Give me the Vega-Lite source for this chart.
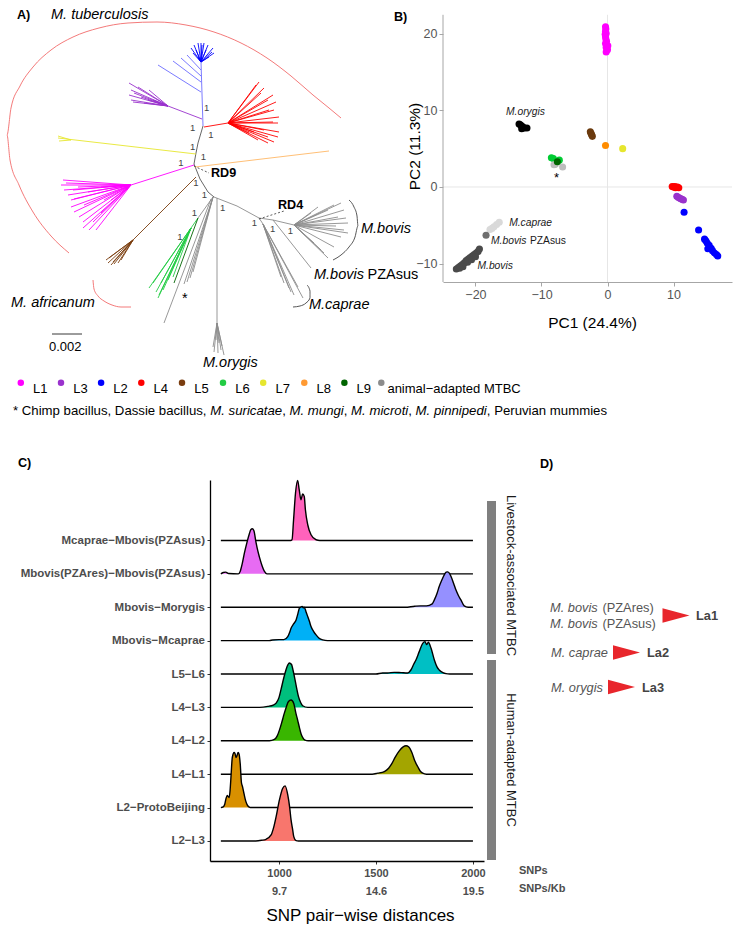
{
"$schema":"https://vega.github.io/schema/vega-lite/v6.json",
"padding":0,
"background":"white",
"config":{"view":{"stroke":null},"font":"Liberation Sans","text":{"font":"Liberation Sans"},"axis":{"labelFont":"Liberation Sans","titleFont":"Liberation Sans"}},
"datasets":{
"tree":[
{"g":"bb","x":202,"y":126,"x2":197,"y2":143},{"g":"bb","x":197,"y":143,"x2":195,"y2":153},{"g":"bb","x":195,"y":153,"x2":193,"y2":164},{"g":"bb","x":193,"y":164,"x2":199,"y2":179},{"g":"bb","x":199,"y":179,"x2":207,"y2":192},{"g":"bb","x":207,"y":192,"x2":213,"y2":197},
{"g":"an","x":213,"y":197,"x2":236,"y2":206},{"g":"an","x":236,"y":206,"x2":258,"y2":218},{"g":"an","x":258,"y":218,"x2":272,"y2":220},{"g":"an","x":272,"y":220,"x2":293,"y2":225},{"g":"an","x":272,"y":220,"x2":310,"y2":268},{"g":"an","x":258,"y":218,"x2":262,"y2":224},{"g":"an","x":216,"y":198,"x2":216,"y2":323},
{"g":"an","x":212,"y":197,"x2":183,"y2":284},{"g":"an","x":212,"y":197,"x2":186,"y2":282},{"g":"an","x":212,"y":197,"x2":189,"y2":278},{"g":"an","x":212,"y":197,"x2":192,"y2":272},{"g":"an","x":210,"y":199,"x2":163,"y2":323},{"g":"an","x":212,"y":197,"x2":197,"y2":218},
{"g":"an","x":293,"y":225,"x2":340,"y2":203},{"g":"an","x":293,"y":225,"x2":343,"y2":210},{"g":"an","x":293,"y":225,"x2":333,"y2":205},{"g":"an","x":293,"y":225,"x2":347,"y2":223},{"g":"an","x":293,"y":225,"x2":343,"y2":230},{"g":"an","x":293,"y":225,"x2":340,"y2":237},{"g":"an","x":293,"y":225,"x2":333,"y2":247},{"g":"an","x":293,"y":225,"x2":327,"y2":258},{"g":"an","x":293,"y":225,"x2":323,"y2":253},{"g":"an","x":293,"y":225,"x2":320,"y2":250},{"g":"an","x":293,"y":225,"x2":313,"y2":243},{"g":"an","x":293,"y":225,"x2":337,"y2":217},{"g":"an","x":293,"y":225,"x2":327,"y2":210},{"g":"an","x":293,"y":225,"x2":317,"y2":207},{"g":"an","x":293,"y":225,"x2":310,"y2":213},{"g":"an","x":293,"y":225,"x2":347,"y2":233},{"g":"an","x":293,"y":225,"x2":335,"y2":226},{"g":"an","x":293,"y":225,"x2":345,"y2":218},
{"g":"an","x":262,"y":224,"x2":293,"y2":295},{"g":"an","x":262,"y":224,"x2":302,"y2":298},{"g":"an","x":262,"y":224,"x2":290,"y2":292},{"g":"an","x":262,"y":224,"x2":283,"y2":283},{"g":"an","x":262,"y":224,"x2":297,"y2":287},{"g":"an","x":262,"y":224,"x2":280,"y2":277},{"g":"an","x":262,"y":224,"x2":288,"y2":288},
{"g":"an","x":216,"y":323,"x2":212,"y2":347},{"g":"an","x":216,"y":323,"x2":213,"y2":352},{"g":"an","x":216,"y":323,"x2":217,"y2":353},{"g":"an","x":216,"y":323,"x2":220,"y2":350},{"g":"an","x":216,"y":323,"x2":223,"y2":355},{"g":"an","x":216,"y":323,"x2":218,"y2":343},{"g":"an","x":216,"y":323,"x2":215,"y2":340},{"g":"an","x":216,"y":323,"x2":221,"y2":346},
{"g":"L2b","x":202,"y":126,"x2":200,"y2":62},{"g":"L2b","x":200,"y":92,"x2":157,"y2":65},{"g":"L2b","x":200,"y":82,"x2":172,"y2":61},{"g":"L2b","x":200,"y":76,"x2":180,"y2":58},{"g":"L2b","x":200,"y":70,"x2":186,"y2":55},
{"g":"L2","x":200,"y":62,"x2":190,"y2":48},{"g":"L2","x":200,"y":62,"x2":193,"y2":45},{"g":"L2","x":200,"y":62,"x2":197,"y2":43},{"g":"L2","x":200,"y":62,"x2":200,"y2":43},{"g":"L2","x":200,"y":62,"x2":203,"y2":43},{"g":"L2","x":200,"y":62,"x2":207,"y2":45},{"g":"L2","x":200,"y":62,"x2":212,"y2":48},{"g":"L2","x":200,"y":62,"x2":213,"y2":53},{"g":"L2","x":200,"y":62,"x2":192,"y2":53},{"g":"L2","x":200,"y":62,"x2":197,"y2":57},{"g":"L2","x":200,"y":62,"x2":208,"y2":57},{"g":"L2","x":200,"y":62,"x2":211,"y2":52},{"g":"L2","x":200,"y":62,"x2":195,"y2":50},{"g":"L2","x":200,"y":62,"x2":205,"y2":50},{"g":"L2","x":200,"y":62,"x2":201,"y2":45},
{"g":"L3","x":201,"y":119,"x2":167,"y2":106},{"g":"L3","x":167,"y":106,"x2":128,"y2":83},{"g":"L3","x":167,"y":106,"x2":130,"y2":90},{"g":"L3","x":167,"y":106,"x2":128,"y2":95},{"g":"L3","x":167,"y":106,"x2":130,"y2":100},{"g":"L3","x":167,"y":106,"x2":132,"y2":102},{"g":"L3","x":167,"y":106,"x2":140,"y2":97},{"g":"L3","x":167,"y":106,"x2":137,"y2":87},{"g":"L3","x":167,"y":106,"x2":148,"y2":90},{"g":"L3","x":167,"y":106,"x2":152,"y2":100},{"g":"L3","x":167,"y":106,"x2":157,"y2":103},{"g":"L3","x":167,"y":106,"x2":143,"y2":103},{"g":"L3","x":167,"y":106,"x2":133,"y2":93},{"g":"L3","x":167,"y":106,"x2":147,"y2":100},
{"g":"L4","x":203,"y":127,"x2":227,"y2":123},{"g":"L4","x":227,"y":123,"x2":258,"y2":82},{"g":"L4","x":227,"y":123,"x2":263,"y2":88},{"g":"L4","x":227,"y":123,"x2":272,"y2":95},{"g":"L4","x":227,"y":123,"x2":275,"y2":102},{"g":"L4","x":227,"y":123,"x2":273,"y2":110},{"g":"L4","x":227,"y":123,"x2":278,"y2":117},{"g":"L4","x":227,"y":123,"x2":277,"y2":123},{"g":"L4","x":227,"y":123,"x2":278,"y2":132},{"g":"L4","x":227,"y":123,"x2":277,"y2":137},{"g":"L4","x":227,"y":123,"x2":273,"y2":142},{"g":"L4","x":227,"y":123,"x2":267,"y2":143},{"g":"L4","x":227,"y":123,"x2":257,"y2":140},{"g":"L4","x":227,"y":123,"x2":248,"y2":133},{"g":"L4","x":227,"y":123,"x2":260,"y2":93},{"g":"L4","x":227,"y":123,"x2":267,"y2":100},{"g":"L4","x":227,"y":123,"x2":268,"y2":110},{"g":"L4","x":227,"y":123,"x2":272,"y2":122},{"g":"L4","x":227,"y":123,"x2":263,"y2":130},{"g":"L4","x":227,"y":123,"x2":267,"y2":137},{"g":"L4","x":227,"y":123,"x2":253,"y2":132},{"g":"L4","x":227,"y":123,"x2":255,"y2":85},
{"g":"L7","x":195,"y":154,"x2":57,"y2":138},{"g":"L7","x":70,"y":140,"x2":57,"y2":136},{"g":"L7","x":70,"y":140,"x2":58,"y2":141},
{"g":"L8t","x":194,"y":167,"x2":328,"y2":151},
{"g":"L1","x":193,"y":165,"x2":130,"y2":185},{"g":"L1","x":130,"y":185,"x2":62,"y2":180},{"g":"L1","x":130,"y":185,"x2":60,"y2":185},{"g":"L1","x":130,"y":185,"x2":63,"y2":190},{"g":"L1","x":130,"y":185,"x2":67,"y2":195},{"g":"L1","x":130,"y":185,"x2":70,"y2":200},{"g":"L1","x":130,"y":185,"x2":70,"y2":207},{"g":"L1","x":130,"y":185,"x2":73,"y2":212},{"g":"L1","x":130,"y":185,"x2":78,"y2":217},{"g":"L1","x":130,"y":185,"x2":82,"y2":222},{"g":"L1","x":130,"y":185,"x2":88,"y2":230},{"g":"L1","x":130,"y":185,"x2":82,"y2":228},{"g":"L1","x":130,"y":185,"x2":92,"y2":222},{"g":"L1","x":130,"y":185,"x2":100,"y2":213},{"g":"L1","x":130,"y":185,"x2":83,"y2":205},{"g":"L1","x":130,"y":185,"x2":73,"y2":199},{"g":"L1","x":130,"y":185,"x2":72,"y2":190},{"g":"L1","x":130,"y":185,"x2":87,"y2":192},{"g":"L1","x":130,"y":185,"x2":100,"y2":187},{"g":"L1","x":130,"y":185,"x2":103,"y2":200},{"g":"L1","x":130,"y":185,"x2":110,"y2":200},{"g":"L1","x":130,"y":185,"x2":65,"y2":183},{"g":"L1","x":130,"y":185,"x2":77,"y2":187},{"g":"L1","x":130,"y":185,"x2":95,"y2":230},
{"g":"L5","x":195,"y":177,"x2":132,"y2":240},{"g":"L5","x":132,"y":240,"x2":105,"y2":260},{"g":"L5","x":132,"y":240,"x2":107,"y2":263},{"g":"L5","x":132,"y":240,"x2":110,"y2":265},{"g":"L5","x":132,"y":240,"x2":113,"y2":264},{"g":"L5","x":132,"y":240,"x2":117,"y2":263},{"g":"L5","x":132,"y":240,"x2":108,"y2":258},{"g":"L5","x":132,"y":240,"x2":120,"y2":260},{"g":"L5","x":132,"y":240,"x2":112,"y2":262},
{"g":"L6","x":197,"y":218,"x2":190,"y2":228},{"g":"L6","x":190,"y":228,"x2":148,"y2":288},{"g":"L6","x":190,"y":228,"x2":152,"y2":283},{"g":"L6","x":190,"y":228,"x2":157,"y2":298},{"g":"L6","x":190,"y":228,"x2":162,"y2":290},{"g":"L6","x":190,"y":228,"x2":167,"y2":280},{"g":"L6","x":190,"y":228,"x2":172,"y2":277},{"g":"L6","x":190,"y":228,"x2":160,"y2":283},{"g":"L6","x":190,"y":228,"x2":155,"y2":292},{"g":"L6","x":190,"y":228,"x2":158,"y2":295},
{"g":"L9","x":197,"y":218,"x2":173,"y2":283},
{"g":"sc","x":51,"y":334,"x2":81,"y2":334}
],
"dashed":[{"x":193,"y":166,"x2":208,"y2":173},{"x":258,"y":219,"x2":283,"y2":211}],
"arcs":[
{"k":"tb","o":0,"x":68,"y":253},{"k":"tb","o":1,"x":50,"y":236},{"k":"tb","o":2,"x":32,"y":212},{"k":"tb","o":3,"x":18,"y":185},{"k":"tb","o":4,"x":9,"y":160},{"k":"tb","o":5,"x":6,"y":135},{"k":"tb","o":6,"x":10,"y":108},{"k":"tb","o":7,"x":19,"y":86},{"k":"tb","o":8,"x":32,"y":67},{"k":"tb","o":9,"x":50,"y":50},{"k":"tb","o":10,"x":72,"y":37},{"k":"tb","o":11,"x":98,"y":28},{"k":"tb","o":12,"x":127,"y":23},{"k":"tb","o":13,"x":156,"y":22},{"k":"tb","o":14,"x":185,"y":25},{"k":"tb","o":15,"x":213,"y":32},{"k":"tb","o":16,"x":240,"y":43},{"k":"tb","o":17,"x":266,"y":58},{"k":"tb","o":18,"x":290,"y":76},{"k":"tb","o":19,"x":312,"y":95},{"k":"tb","o":20,"x":328,"y":108},{"k":"tb","o":21,"x":340,"y":118},
{"k":"af","o":0,"x":92,"y":280},{"k":"af","o":1,"x":93,"y":289},{"k":"af","o":2,"x":97,"y":296},{"k":"af","o":3,"x":103,"y":301},{"k":"af","o":4,"x":111,"y":305},{"k":"af","o":5,"x":120,"y":307},{"k":"af","o":6,"x":130,"y":307},
{"k":"bov","o":0,"x":348,"y":200},{"k":"bov","o":1,"x":353,"y":207},{"k":"bov","o":2,"x":356,"y":216},{"k":"bov","o":3,"x":357,"y":226},{"k":"bov","o":4,"x":354,"y":237},{"k":"bov","o":5,"x":348,"y":247},{"k":"bov","o":6,"x":340,"y":255},{"k":"bov","o":7,"x":332,"y":260},
{"k":"cap","o":0,"x":306,"y":285},{"k":"cap","o":1,"x":309,"y":291},{"k":"cap","o":2,"x":309,"y":298},{"k":"cap","o":3,"x":305,"y":303},{"k":"cap","o":4,"x":299,"y":306},{"k":"cap","o":5,"x":292,"y":307}
],
"boots":[{"x":205.7,"y":108.3},{"x":191.7,"y":128.3},{"x":210,"y":135},{"x":191.7,"y":146.7},{"x":202.3,"y":156.7},{"x":180,"y":163.3},{"x":195,"y":183.3},{"x":203.3,"y":194.8},{"x":193.3,"y":213},{"x":179,"y":237},{"x":221.7,"y":208.3},{"x":253.3,"y":222.5},{"x":271.7,"y":229.3},{"x":289.3,"y":230.5}],
"atext":[
{"s":"i","x":50,"y":15,"t":"M. tuberculosis"},{"s":"i","x":10,"y":303,"t":"M. africanum"},{"s":"i","x":360,"y":229,"t":"M.bovis"},{"s":"i","x":313,"y":275,"t":"M.bovis"},{"s":"i","x":308,"y":305,"t":"M.caprae"},{"s":"i","x":202,"y":363,"t":"M.orygis"},
{"s":"n","x":366.5,"y":275,"t":"PZAsus"},{"s":"n","x":181,"y":299,"t":"*"},
{"s":"b","x":16,"y":15,"t":"A)"},{"s":"b","x":393,"y":17.3,"t":"B)"},{"s":"b","x":210,"y":173,"t":"RD9"},{"s":"b","x":277,"y":204.5,"t":"RD4"},{"s":"b","x":17,"y":463,"t":"C)"},{"s":"b","x":539,"y":464,"t":"D)"}
],
"scaletext":[{"x":48,"y":347,"t":"0.002"}],
"leg":[{"g":"L1","x":19.8,"y":382.7,"lx":32,"t":"L1"},{"g":"L3","x":60,"y":382.7,"lx":72.2,"t":"L3"},{"g":"L2","x":100.1,"y":382.7,"lx":112.3,"t":"L2"},{"g":"L4","x":140.3,"y":382.7,"lx":152.5,"t":"L4"},{"g":"L5","x":181,"y":382.7,"lx":193.2,"t":"L5"},{"g":"L6","x":222,"y":382.7,"lx":234.2,"t":"L6"},{"g":"L7","x":262.2,"y":382.7,"lx":274.4,"t":"L7"},{"g":"L8","x":303.3,"y":382.7,"lx":315.5,"t":"L8"},{"g":"L9","x":343.4,"y":382.7,"lx":355.6,"t":"L9"},{"g":"an","x":380.3,"y":382.7,"lx":386.4,"t":"animal−adapted MTBC"}],
"foot":[{"s":"n","x":12,"t":"* Chimp bacillus, Dassie bacillus,"},{"s":"i","x":209.3,"t":"M. suricatae"},{"s":"n","x":281.2,"t":","},{"s":"i","x":288.5,"t":"M. mungi"},{"s":"n","x":342.8,"t":","},{"s":"i","x":350.1,"t":"M. microti"},{"s":"n","x":407.3,"t":","},{"s":"i","x":414.6,"t":"M. pinnipedi"},{"s":"n","x":485.8,"t":", Peruvian mummies"}],
"pca":[
{"g":"L1","pc1":-0.3,"pc2":20.9},{"g":"L1","pc1":-0.25,"pc2":20.6},{"g":"L1","pc1":-0.3,"pc2":20.3},{"g":"L1","pc1":-0.2,"pc2":20.0},{"g":"L1","pc1":-0.3,"pc2":19.6},{"g":"L1","pc1":-0.25,"pc2":19.3},{"g":"L1","pc1":-0.15,"pc2":19.0},{"g":"L1","pc1":-0.3,"pc2":18.7},{"g":"L1","pc1":-0.1,"pc2":18.5},{"g":"L1","pc1":-0.2,"pc2":18.2},{"g":"L1","pc1":0.0,"pc2":17.9},{"g":"L1","pc1":-0.2,"pc2":17.6},{"g":"L1","pc1":0.05,"pc2":18.4},{"g":"L1","pc1":-0.35,"pc2":19.9},
{"g":"L4","pc1":9.8,"pc2":0.05},{"g":"L4","pc1":10.0,"pc2":0.0},{"g":"L4","pc1":10.2,"pc2":0.05},{"g":"L4","pc1":10.4,"pc2":-0.05},{"g":"L4","pc1":10.6,"pc2":0.0},{"g":"L4","pc1":10.8,"pc2":-0.1},{"g":"L4","pc1":10.3,"pc2":-0.1},
{"g":"L3","pc1":10.5,"pc2":-1.2},{"g":"L3","pc1":10.7,"pc2":-1.35},{"g":"L3","pc1":10.9,"pc2":-1.45},{"g":"L3","pc1":11.1,"pc2":-1.55},{"g":"L3","pc1":11.3,"pc2":-1.6},{"g":"L3","pc1":11.5,"pc2":-1.7},
{"g":"L2","pc1":11.6,"pc2":-3.3},{"g":"L2","pc1":13.8,"pc2":-5.6},{"g":"L2","pc1":14.7,"pc2":-6.8},{"g":"L2","pc1":14.9,"pc2":-7.0},{"g":"L2","pc1":15.1,"pc2":-7.3},{"g":"L2","pc1":15.4,"pc2":-7.6},{"g":"L2","pc1":15.7,"pc2":-8.0},{"g":"L2","pc1":15.2,"pc2":-8.05},{"g":"L2","pc1":15.9,"pc2":-8.3},{"g":"L2","pc1":16.2,"pc2":-8.6},{"g":"L2","pc1":16.5,"pc2":-8.8},{"g":"L2","pc1":16.7,"pc2":-9.0},
{"g":"L5","pc1":-2.6,"pc2":7.2},{"g":"L5","pc1":-2.5,"pc2":7.0},{"g":"L5","pc1":-2.4,"pc2":6.8},{"g":"L5","pc1":-2.3,"pc2":6.6},
{"g":"L8","pc1":-0.3,"pc2":5.4},{"g":"L7","pc1":2.3,"pc2":5.0},
{"g":"L6","pc1":-8.5,"pc2":3.8},{"g":"L6","pc1":-8.2,"pc2":3.7},{"g":"L6","pc1":-7.3,"pc2":3.5},
{"g":"star","pc1":-8.1,"pc2":2.9},{"g":"star","pc1":-7.9,"pc2":2.95},{"g":"star","pc1":-6.8,"pc2":2.6},
{"g":"L9","pc1":-7.6,"pc2":3.3},
{"g":"orygis","pc1":-13.4,"pc2":8.2},{"g":"orygis","pc1":-13.2,"pc2":8.1},{"g":"orygis","pc1":-13.0,"pc2":7.95},{"g":"orygis","pc1":-12.8,"pc2":7.8},{"g":"orygis","pc1":-12.6,"pc2":7.7},{"g":"orygis","pc1":-13.0,"pc2":7.6},{"g":"orygis","pc1":-12.2,"pc2":7.7},
{"g":"caprae","pc1":-16.4,"pc2":-4.6},{"g":"caprae","pc1":-16.8,"pc2":-4.9},{"g":"caprae","pc1":-17.2,"pc2":-5.2},{"g":"caprae","pc1":-17.5,"pc2":-5.4},{"g":"caprae","pc1":-17.8,"pc2":-5.55},
{"g":"pzasus","pc1":-18.4,"pc2":-6.3},
{"g":"bovis","pc1":-22.9,"pc2":-10.7},{"g":"bovis","pc1":-22.6,"pc2":-10.5},{"g":"bovis","pc1":-22.3,"pc2":-10.3},{"g":"bovis","pc1":-22.0,"pc2":-10.1},{"g":"bovis","pc1":-21.7,"pc2":-9.9},{"g":"bovis","pc1":-21.4,"pc2":-9.6},{"g":"bovis","pc1":-21.1,"pc2":-9.4},{"g":"bovis","pc1":-20.8,"pc2":-9.2},{"g":"bovis","pc1":-20.5,"pc2":-9.0},{"g":"bovis","pc1":-20.2,"pc2":-8.8},{"g":"bovis","pc1":-19.9,"pc2":-8.6},{"g":"bovis","pc1":-19.6,"pc2":-8.4},{"g":"bovis","pc1":-19.4,"pc2":-8.1},{"g":"bovis","pc1":-21.9,"pc2":-10.4},{"g":"bovis","pc1":-21.2,"pc2":-9.8},{"g":"bovis","pc1":-20.6,"pc2":-9.5},{"g":"bovis","pc1":-20.0,"pc2":-9.1},{"g":"bovis","pc1":-22.4,"pc2":-10.6}
],
"pcatext":[{"s":"i","pc1":-15.38,"pc2":9.82,"t":"M.orygis"},{"s":"i","pc1":-14.9,"pc2":-4.65,"t":"M.caprae"},{"s":"i","pc1":-17.65,"pc2":-7.0,"t":"M.bovis"},{"s":"n","pc1":-11.75,"pc2":-7.0,"t":"PZAsus"},{"s":"i","pc1":-19.7,"pc2":-10.26,"t":"M.bovis"},{"s":"a","pc1":-8.1,"pc2":1.17,"t":"*"}],
"ridges":[
{"p":"r9","s":700,"b":9,"t":9},{"p":"r9","s":1060,"b":9,"t":9},{"p":"r9","s":1067,"b":9,"t":9.02},{"p":"r9","s":1075,"b":9,"t":9.62},{"p":"r9","s":1085,"b":9,"t":10.42},{"p":"r9","s":1096,"b":9,"t":10.8},{"p":"r9","s":1104,"b":9,"t":10.52},{"p":"r9","s":1113,"b":9,"t":10.22},{"p":"r9","s":1122,"b":9,"t":10.39},{"p":"r9","s":1130,"b":9,"t":10.32},{"p":"r9","s":1136,"b":9,"t":9.92},{"p":"r9","s":1148,"b":9,"t":9.47},{"p":"r9","s":1165,"b":9,"t":9.17},{"p":"r9","s":1191,"b":9,"t":9.02},{"p":"r9","s":1210,"b":9,"t":9},{"p":"r9","s":2000,"b":9,"t":9},
{"p":"r8","s":700,"b":8,"t":8},{"p":"r8","s":712,"b":8,"t":8.04},{"p":"r8","s":725,"b":8,"t":8.05},{"p":"r8","s":740,"b":8,"t":8.01},{"p":"r8","s":790,"b":8,"t":8.0},{"p":"r8","s":800,"b":8,"t":8.08},{"p":"r8","s":810,"b":8,"t":8.3},{"p":"r8","s":821,"b":8,"t":8.61},{"p":"r8","s":835,"b":8,"t":8.95},{"p":"r8","s":847,"b":8,"t":9.2},{"p":"r8","s":855,"b":8,"t":9.33},{"p":"r8","s":862,"b":8,"t":9.35},{"p":"r8","s":870,"b":8,"t":9.3},{"p":"r8","s":881,"b":8,"t":8.95},{"p":"r8","s":890,"b":8,"t":8.7},{"p":"r8","s":899,"b":8,"t":8.5},{"p":"r8","s":912,"b":8,"t":8.25},{"p":"r8","s":924,"b":8,"t":8.08},{"p":"r8","s":938,"b":8,"t":8.0},{"p":"r8","s":2000,"b":8,"t":8},
{"p":"r7","s":700,"b":7,"t":7},{"p":"r7","s":1650,"b":7,"t":7},{"p":"r7","s":1700,"b":7,"t":7.03},{"p":"r7","s":1730,"b":7,"t":7.04},{"p":"r7","s":1760,"b":7,"t":7.04},{"p":"r7","s":1790,"b":7,"t":7.1},{"p":"r7","s":1801,"b":7,"t":7.22},{"p":"r7","s":1815,"b":7,"t":7.42},{"p":"r7","s":1826,"b":7,"t":7.62},{"p":"r7","s":1840,"b":7,"t":7.82},{"p":"r7","s":1852,"b":7,"t":7.97},{"p":"r7","s":1862,"b":7,"t":8.05},{"p":"r7","s":1870,"b":7,"t":8.06},{"p":"r7","s":1878,"b":7,"t":8.02},{"p":"r7","s":1887,"b":7,"t":7.92},{"p":"r7","s":1900,"b":7,"t":7.72},{"p":"r7","s":1912,"b":7,"t":7.52},{"p":"r7","s":1925,"b":7,"t":7.35},{"p":"r7","s":1938,"b":7,"t":7.22},{"p":"r7","s":1955,"b":7,"t":7.04},{"p":"r7","s":1975,"b":7,"t":7.0},{"p":"r7","s":2000,"b":7,"t":7},
{"p":"r6","s":700,"b":6,"t":6},{"p":"r6","s":950,"b":6,"t":6},{"p":"r6","s":967,"b":6,"t":6.02},{"p":"r6","s":1000,"b":6,"t":6.03},{"p":"r6","s":1025,"b":6,"t":6.03},{"p":"r6","s":1045,"b":6,"t":6.12},{"p":"r6","s":1055,"b":6,"t":6.25},{"p":"r6","s":1062,"b":6,"t":6.37},{"p":"r6","s":1075,"b":6,"t":6.5},{"p":"r6","s":1088,"b":6,"t":6.62},{"p":"r6","s":1097,"b":6,"t":6.8},{"p":"r6","s":1105,"b":6,"t":6.97},{"p":"r6","s":1112,"b":6,"t":7.0},{"p":"r6","s":1119,"b":6,"t":7.02},{"p":"r6","s":1125,"b":6,"t":6.98},{"p":"r6","s":1130,"b":6,"t":7.0},{"p":"r6","s":1140,"b":6,"t":6.85},{"p":"r6","s":1148,"b":6,"t":6.72},{"p":"r6","s":1157,"b":6,"t":6.57},{"p":"r6","s":1165,"b":6,"t":6.42},{"p":"r6","s":1178,"b":6,"t":6.28},{"p":"r6","s":1191,"b":6,"t":6.17},{"p":"r6","s":1205,"b":6,"t":6.08},{"p":"r6","s":1225,"b":6,"t":6.02},{"p":"r6","s":1250,"b":6,"t":6},{"p":"r6","s":2000,"b":6,"t":6},
{"p":"r5","s":700,"b":5,"t":5},{"p":"r5","s":1500,"b":5,"t":5},{"p":"r5","s":1534,"b":5,"t":5.03},{"p":"r5","s":1560,"b":5,"t":5.03},{"p":"r5","s":1594,"b":5,"t":5.05},{"p":"r5","s":1630,"b":5,"t":5.04},{"p":"r5","s":1663,"b":5,"t":5.03},{"p":"r5","s":1680,"b":5,"t":5.12},{"p":"r5","s":1695,"b":5,"t":5.3},{"p":"r5","s":1706,"b":5,"t":5.42},{"p":"r5","s":1723,"b":5,"t":5.67},{"p":"r5","s":1741,"b":5,"t":5.92},{"p":"r5","s":1753,"b":5,"t":5.97},{"p":"r5","s":1761,"b":5,"t":5.88},{"p":"r5","s":1770,"b":5,"t":5.95},{"p":"r5","s":1784,"b":5,"t":5.77},{"p":"r5","s":1801,"b":5,"t":5.42},{"p":"r5","s":1814,"b":5,"t":5.22},{"p":"r5","s":1826,"b":5,"t":5.12},{"p":"r5","s":1845,"b":5,"t":5.04},{"p":"r5","s":1861,"b":5,"t":5.01},{"p":"r5","s":1880,"b":5,"t":5},{"p":"r5","s":2000,"b":5,"t":5},
{"p":"r4","s":700,"b":4,"t":4},{"p":"r4","s":900,"b":4,"t":4},{"p":"r4","s":942,"b":4,"t":4.03},{"p":"r4","s":970,"b":4,"t":4.07},{"p":"r4","s":985,"b":4,"t":4.13},{"p":"r4","s":1000,"b":4,"t":4.3},{"p":"r4","s":1010,"b":4,"t":4.53},{"p":"r4","s":1023,"b":4,"t":4.85},{"p":"r4","s":1036,"b":4,"t":5.13},{"p":"r4","s":1046,"b":4,"t":5.28},{"p":"r4","s":1053,"b":4,"t":5.33},{"p":"r4","s":1060,"b":4,"t":5.31},{"p":"r4","s":1065,"b":4,"t":5.28},{"p":"r4","s":1072,"b":4,"t":5.12},{"p":"r4","s":1079,"b":4,"t":4.93},{"p":"r4","s":1090,"b":4,"t":4.6},{"p":"r4","s":1100,"b":4,"t":4.33},{"p":"r4","s":1112,"b":4,"t":4.14},{"p":"r4","s":1122,"b":4,"t":4.05},{"p":"r4","s":1148,"b":4,"t":4},{"p":"r4","s":2000,"b":4,"t":4},
{"p":"r3","s":700,"b":3,"t":3},{"p":"r3","s":950,"b":3,"t":3},{"p":"r3","s":976,"b":3,"t":3.04},{"p":"r3","s":990,"b":3,"t":3.14},{"p":"r3","s":1002,"b":3,"t":3.32},{"p":"r3","s":1015,"b":3,"t":3.57},{"p":"r3","s":1027,"b":3,"t":3.82},{"p":"r3","s":1038,"b":3,"t":4.02},{"p":"r3","s":1048,"b":3,"t":4.17},{"p":"r3","s":1062,"b":3,"t":4.22},{"p":"r3","s":1076,"b":3,"t":4.12},{"p":"r3","s":1086,"b":3,"t":3.85},{"p":"r3","s":1096,"b":3,"t":3.62},{"p":"r3","s":1105,"b":3,"t":3.4},{"p":"r3","s":1113,"b":3,"t":3.22},{"p":"r3","s":1124,"b":3,"t":3.08},{"p":"r3","s":1134,"b":3,"t":3.02},{"p":"r3","s":1150,"b":3,"t":3},{"p":"r3","s":2000,"b":3,"t":3},
{"p":"r2","s":700,"b":2,"t":2},{"p":"r2","s":1480,"b":2,"t":2},{"p":"r2","s":1509,"b":2,"t":2.03},{"p":"r2","s":1543,"b":2,"t":2.08},{"p":"r2","s":1565,"b":2,"t":2.18},{"p":"r2","s":1580,"b":2,"t":2.3},{"p":"r2","s":1600,"b":2,"t":2.52},{"p":"r2","s":1620,"b":2,"t":2.7},{"p":"r2","s":1640,"b":2,"t":2.82},{"p":"r2","s":1655,"b":2,"t":2.85},{"p":"r2","s":1668,"b":2,"t":2.82},{"p":"r2","s":1685,"b":2,"t":2.65},{"p":"r2","s":1700,"b":2,"t":2.4},{"p":"r2","s":1715,"b":2,"t":2.23},{"p":"r2","s":1730,"b":2,"t":2.08},{"p":"r2","s":1741,"b":2,"t":2.03},{"p":"r2","s":1760,"b":2,"t":2},{"p":"r2","s":2000,"b":2,"t":2},
{"p":"r1","s":700,"b":1,"t":1},{"p":"r1","s":712,"b":1,"t":1.02},{"p":"r1","s":720,"b":1,"t":1.1},{"p":"r1","s":727,"b":1,"t":1.28},{"p":"r1","s":733,"b":1,"t":1.36},{"p":"r1","s":738,"b":1,"t":1.33},{"p":"r1","s":743,"b":1,"t":1.3},{"p":"r1","s":748,"b":1,"t":1.55},{"p":"r1","s":753,"b":1,"t":2.0},{"p":"r1","s":758,"b":1,"t":2.45},{"p":"r1","s":763,"b":1,"t":2.6},{"p":"r1","s":768,"b":1,"t":2.65},{"p":"r1","s":773,"b":1,"t":2.62},{"p":"r1","s":778,"b":1,"t":2.5},{"p":"r1","s":783,"b":1,"t":2.55},{"p":"r1","s":789,"b":1,"t":2.65},{"p":"r1","s":794,"b":1,"t":2.6},{"p":"r1","s":800,"b":1,"t":2.3},{"p":"r1","s":806,"b":1,"t":1.75},{"p":"r1","s":812,"b":1,"t":1.62},{"p":"r1","s":820,"b":1,"t":1.4},{"p":"r1","s":828,"b":1,"t":1.2},{"p":"r1","s":836,"b":1,"t":1.08},{"p":"r1","s":845,"b":1,"t":1.02},{"p":"r1","s":852,"b":1,"t":1.0},{"p":"r1","s":2000,"b":1,"t":1},
{"p":"r0","s":700,"b":0,"t":0},{"p":"r0","s":880,"b":0,"t":0},{"p":"r0","s":910,"b":0,"t":0.02},{"p":"r0","s":933,"b":0,"t":0.05},{"p":"r0","s":959,"b":0,"t":0.18},{"p":"r0","s":972,"b":0,"t":0.4},{"p":"r0","s":985,"b":0,"t":0.73},{"p":"r0","s":1002,"b":0,"t":1.23},{"p":"r0","s":1019,"b":0,"t":1.58},{"p":"r0","s":1031,"b":0,"t":1.65},{"p":"r0","s":1045,"b":0,"t":1.38},{"p":"r0","s":1055,"b":0,"t":1.0},{"p":"r0","s":1062,"b":0,"t":0.63},{"p":"r0","s":1070,"b":0,"t":0.35},{"p":"r0","s":1076,"b":0,"t":0.13},{"p":"r0","s":1088,"b":0,"t":0.01},{"p":"r0","s":1100,"b":0,"t":0},{"p":"r0","s":2000,"b":0,"t":0}
],
"strips":[{"x":486,"x2":495,"y":498,"y2":651},{"x":486,"x2":495,"y":657,"y2":857}],
"striptext":[{"x":510,"y":572.5,"t":"Livestock-associated MTBC"},{"x":510,"y":757,"t":"Human-adapted MTBC"}],
"dtext":[
{"s":"i","x":549,"y":605,"t":"M. bovis"},{"s":"i","x":549,"y":620.5,"t":"M. bovis"},{"s":"i","x":550,"y":650,"t":"M. caprae"},{"s":"i","x":550,"y":684.5,"t":"M. orygis"},
{"s":"n","x":601.5,"y":605,"t":"(PZAres)"},{"s":"n","x":601.5,"y":620.5,"t":"(PZAsus)"},
{"s":"b","x":695,"y":612.5,"t":"La1"},{"s":"b","x":646,"y":649.5,"t":"La2"},{"s":"b","x":641,"y":684.5,"t":"La3"},
{"s":"u","x":518,"y":868,"t":"SNPs"},{"s":"u","x":518,"y":886,"t":"SNPs/Kb"}
],
"tri":[{"x":675,"y":612.5},{"x":625.5,"y":649.5},{"x":620.5,"y":684}]
},
"bounds":"full",
"spacing":0,
"resolve":{"scale":{"color":"independent"}},
"vconcat":[
{"bounds":"flush","spacing":62,"resolve":{"scale":{"color":"independent"}},"hconcat":[
 {"width":380,"height":477,
  "encoding":{"x":{"field":"x","type":"quantitative","scale":{"domain":[0,380],"nice":false,"zero":false},"axis":null},"y":{"field":"y","type":"quantitative","scale":{"domain":[0,477],"nice":false,"zero":false,"reverse":true},"axis":null}},
  "layer":[
   {"data":{"name":"tree"},"mark":{"type":"rule","strokeWidth":0.9},"encoding":{"x2":{"field":"x2"},"y2":{"field":"y2"},"color":{"field":"g","type":"nominal","legend":null,"scale":{"domain":["L1","L2","L3","L4","L5","L6","L7","L8","L9","an","bb","L2b","tb","af","bov","cap","sc","L8t"],"range":["#ff00ff","#0000ff","#9a32cd","#ff0000","#7a3d0f","#22cc44","#e6e62e","#ff9a33","#006400","#8c8c8c","#555555","#6b6bff","#f26b6b","#f26b6b","#444444","#444444","#222222","#ffb866"]}}}},
   {"data":{"name":"dashed"},"mark":{"type":"rule","strokeWidth":0.8,"strokeDash":[2,2],"color":"#333333"},"encoding":{"x2":{"field":"x2"},"y2":{"field":"y2"}}},
   {"data":{"name":"arcs"},"mark":{"type":"line","strokeWidth":0.9,"interpolate":"monotone"},"encoding":{"color":{"field":"k","type":"nominal","legend":null},"order":{"field":"o","type":"quantitative"}}},
   {"data":{"name":"boots"},"mark":{"type":"text","fontSize":9.5,"color":"#444444","baseline":"middle","align":"center","text":"1"}},
   {"data":{"name":"atext"},"transform":[{"filter":"datum.s=='i'"}],"mark":{"type":"text","fontSize":14.5,"fontStyle":"italic","align":"left","baseline":"middle","color":"#000000"},"encoding":{"text":{"field":"t"}}},
   {"data":{"name":"atext"},"transform":[{"filter":"datum.s=='n'"}],"mark":{"type":"text","fontSize":14.5,"align":"left","baseline":"middle","color":"#000000"},"encoding":{"text":{"field":"t"}}},
   {"data":{"name":"atext"},"transform":[{"filter":"datum.s=='b'"}],"mark":{"type":"text","fontSize":12.6,"fontWeight":"bold","align":"left","baseline":"middle","color":"#000000"},"encoding":{"text":{"field":"t"}}},
   {"data":{"name":"scaletext"},"mark":{"type":"text","fontSize":13,"align":"left","baseline":"middle","color":"#000000"},"encoding":{"text":{"field":"t"}}},
   {"data":{"name":"leg"},"mark":{"type":"circle","size":42,"opacity":1},"encoding":{"color":{"field":"g","type":"nominal","legend":null}}},
   {"data":{"name":"leg"},"mark":{"type":"text","fontSize":13,"align":"left","baseline":"middle","color":"#000000"},"encoding":{"x":{"field":"lx","type":"quantitative","axis":null},"y":{"field":"y","type":"quantitative","axis":null},"yOffset":{"value":6.6},"text":{"field":"t"}}},
   {"data":{"name":"foot"},"transform":[{"filter":"datum.s=='n'"}],"mark":{"type":"text","fontSize":13.2,"align":"left","baseline":"middle","color":"#000000","y":410.7},"encoding":{"y":null,"text":{"field":"t"}}},
   {"data":{"name":"foot"},"transform":[{"filter":"datum.s=='i'"}],"mark":{"type":"text","fontSize":13.2,"fontStyle":"italic","align":"left","baseline":"middle","color":"#000000","y":410.7},"encoding":{"y":null,"text":{"field":"t"}}}
  ]},
 {"width":289,"height":282,
  "layer":[
   {"data":{"values":[{}]},"mark":{"type":"rule","color":"#e6e6e6","strokeWidth":1},"encoding":{"x":{"datum":0,"type":"quantitative"},"y":{"datum":-12.39,"type":"quantitative"},"y2":{"datum":22.45}}},
   {"data":{"values":[{}]},"mark":{"type":"rule","color":"#e6e6e6","strokeWidth":1},"encoding":{"y":{"datum":0,"type":"quantitative"},"x":{"datum":-24.92,"type":"quantitative"},"x2":{"datum":18.86}}},
   {"data":{"values":[{}]},"mark":{"type":"rule","color":"#a6a6a6","strokeWidth":1},"encoding":{"x":{"datum":-24.92,"type":"quantitative"},"y":{"datum":-12.39,"type":"quantitative"},"y2":{"datum":22.45}}},
   {"data":{"name":"pca"},"mark":{"type":"circle","size":50,"opacity":1},
    "encoding":{
     "x":{"field":"pc1","type":"quantitative","scale":{"domain":[-24.92,18.86],"nice":false,"zero":false},"axis":{"values":[-20,-10,0,10],"title":"PC1 (24.4%)","titleFontSize":15.5,"titleFontWeight":"normal","titleColor":"#000000","titleX":149,"titleY":45,"titleBaseline":"alphabetic","titleAlign":"center","labelColor":"#555555","labelFontSize":12.5,"labelFlush":false,"tickColor":"#a6a6a6","domainColor":"#a6a6a6","tickSize":4,"labelPadding":2,"grid":false}},
     "y":{"field":"pc2","type":"quantitative","scale":{"domain":[-12.39,24.38],"nice":false,"zero":false},"axis":{"values":[-10,0,10,20],"domain":false,"title":"PC2 (11.3%)","titleFontSize":15.5,"titleFontWeight":"normal","titleColor":"#000000","titleX":-24,"titleY":146,"titleBaseline":"alphabetic","titleAlign":"center","titleAngle":-90,"labelColor":"#555555","labelFontSize":12.5,"labelFlush":false,"tickColor":"#a6a6a6","tickSize":4,"labelPadding":2,"grid":false}},
     "color":{"field":"g","type":"nominal","legend":null,"scale":{"domain":["L1","L2","L3","L4","L5","L6","L7","L8","L9","orygis","bovis","caprae","pzasus","star"],"range":["#ff00ff","#0000ff","#9932cc","#ff0000","#6b3a0e","#00cc33","#e6e62e","#ff8c00","#006400","#000000","#4a4a4a","#d9d9d9","#6e6e6e","#bdbdbd"]}}}},
   {"data":{"name":"pcatext"},"transform":[{"filter":"datum.s=='i'"}],"mark":{"type":"text","fontSize":10.3,"fontStyle":"italic","align":"left","baseline":"middle","color":"#1a1a1a"},"encoding":{"x":{"field":"pc1","type":"quantitative"},"y":{"field":"pc2","type":"quantitative"},"text":{"field":"t"}}},
   {"data":{"name":"pcatext"},"transform":[{"filter":"datum.s=='n'"}],"mark":{"type":"text","fontSize":10.3,"align":"left","baseline":"middle","color":"#1a1a1a"},"encoding":{"x":{"field":"pc1","type":"quantitative"},"y":{"field":"pc2","type":"quantitative"},"text":{"field":"t"}}},
   {"data":{"name":"pcatext"},"transform":[{"filter":"datum.s=='a'"}],"mark":{"type":"text","fontSize":13,"align":"left","baseline":"middle","color":"#000000"},"encoding":{"x":{"field":"pc1","type":"quantitative"},"y":{"field":"pc2","type":"quantitative"},"text":{"field":"t"}}}
  ]}
]},
{"bounds":"flush","spacing":0,"hconcat":[
 {"width":209,"height":381,"data":{"values":[{}]},"mark":{"type":"rule","opacity":0},"encoding":{}},
 {"width":274,"height":381,"data":{"name":"ridges"},
  "encoding":{
   "x":{"field":"s","type":"quantitative","scale":{"domain":[644,2057],"nice":false,"zero":false},"axis":{"values":[1000,1500,2000],"format":"d","labelExpr":"[datum.label, datum.value==1000 ? '9.7' : (datum.value==1500 ? '14.6' : '19.5')]","labelLineHeight":18,"labelBaseline":"top","labelFontWeight":"bold","labelFontSize":11,"labelColor":"#4d4d4d","labelFlush":false,"labelOverlap":false,"tickColor":"#333333","tickSize":3,"labelPadding":3,"domainColor":"#000000","domainWidth":1.3,"title":"SNP pair−wise distances","titleFontSize":17,"titleFontWeight":"normal","titleColor":"#000000","titleX":150,"titleY":59,"titleBaseline":"alphabetic","titleAlign":"center","grid":false}},
   "y":{"field":"t","type":"quantitative","scale":{"domain":[-0.6,10.81],"nice":false,"zero":false},"axis":{"values":[0,1,2,3,4,5,6,7,8,9],"labelExpr":"['L2−L3','L2−ProtoBeijing','L4−L1','L4−L2','L4−L3','L5−L6','Mbovis−Mcaprae','Mbovis−Morygis','Mbovis(PZAres)−Mbovis(PZAsus)','Mcaprae−Mbovis(PZAsus)'][datum.value]","title":null,"labelFontWeight":"bold","labelFontSize":11.5,"labelColor":"#4d4d4d","labelFlush":false,"labelOverlap":false,"labelLimit":300,"tickColor":"#333333","tickSize":3,"labelPadding":2.5,"domainColor":"#000000","domainWidth":1.3,"grid":false}}},
  "layer":[
   {"transform":[{"filter":"datum.p=='r9'"}],"mark":{"type":"area","color":"#FF62BC","opacity":1,"interpolate":"monotone"},"encoding":{"y2":{"field":"b"}}},
   {"transform":[{"filter":"datum.p=='r9'"}],"mark":{"type":"line","color":"#000000","strokeWidth":1.4,"interpolate":"monotone"}},
   {"transform":[{"filter":"datum.p=='r8'"}],"mark":{"type":"area","color":"#E76BF3","opacity":1,"interpolate":"monotone"},"encoding":{"y2":{"field":"b"}}},
   {"transform":[{"filter":"datum.p=='r8'"}],"mark":{"type":"line","color":"#000000","strokeWidth":1.4,"interpolate":"monotone"}},
   {"transform":[{"filter":"datum.p=='r7'"}],"mark":{"type":"area","color":"#9590FF","opacity":1,"interpolate":"monotone"},"encoding":{"y2":{"field":"b"}}},
   {"transform":[{"filter":"datum.p=='r7'"}],"mark":{"type":"line","color":"#000000","strokeWidth":1.4,"interpolate":"monotone"}},
   {"transform":[{"filter":"datum.p=='r6'"}],"mark":{"type":"area","color":"#00B0F6","opacity":1,"interpolate":"monotone"},"encoding":{"y2":{"field":"b"}}},
   {"transform":[{"filter":"datum.p=='r6'"}],"mark":{"type":"line","color":"#000000","strokeWidth":1.4,"interpolate":"monotone"}},
   {"transform":[{"filter":"datum.p=='r5'"}],"mark":{"type":"area","color":"#00BFC4","opacity":1,"interpolate":"monotone"},"encoding":{"y2":{"field":"b"}}},
   {"transform":[{"filter":"datum.p=='r5'"}],"mark":{"type":"line","color":"#000000","strokeWidth":1.4,"interpolate":"monotone"}},
   {"transform":[{"filter":"datum.p=='r4'"}],"mark":{"type":"area","color":"#00BF7D","opacity":1,"interpolate":"monotone"},"encoding":{"y2":{"field":"b"}}},
   {"transform":[{"filter":"datum.p=='r4'"}],"mark":{"type":"line","color":"#000000","strokeWidth":1.4,"interpolate":"monotone"}},
   {"transform":[{"filter":"datum.p=='r3'"}],"mark":{"type":"area","color":"#39B600","opacity":1,"interpolate":"monotone"},"encoding":{"y2":{"field":"b"}}},
   {"transform":[{"filter":"datum.p=='r3'"}],"mark":{"type":"line","color":"#000000","strokeWidth":1.4,"interpolate":"monotone"}},
   {"transform":[{"filter":"datum.p=='r2'"}],"mark":{"type":"area","color":"#A3A500","opacity":1,"interpolate":"monotone"},"encoding":{"y2":{"field":"b"}}},
   {"transform":[{"filter":"datum.p=='r2'"}],"mark":{"type":"line","color":"#000000","strokeWidth":1.4,"interpolate":"monotone"}},
   {"transform":[{"filter":"datum.p=='r1'"}],"mark":{"type":"area","color":"#D89000","opacity":1,"interpolate":"monotone"},"encoding":{"y2":{"field":"b"}}},
   {"transform":[{"filter":"datum.p=='r1'"}],"mark":{"type":"line","color":"#000000","strokeWidth":1.4,"interpolate":"monotone"}},
   {"transform":[{"filter":"datum.p=='r0'"}],"mark":{"type":"area","color":"#F8766D","opacity":1,"interpolate":"monotone"},"encoding":{"y2":{"field":"b"}}},
   {"transform":[{"filter":"datum.p=='r0'"}],"mark":{"type":"line","color":"#000000","strokeWidth":1.4,"interpolate":"monotone"}}
  ]},
 {"width":254,"height":450,
  "encoding":{"x":{"field":"x","type":"quantitative","scale":{"domain":[483,737],"nice":false,"zero":false},"axis":null},"y":{"field":"y","type":"quantitative","scale":{"domain":[477,927],"nice":false,"zero":false,"reverse":true},"axis":null}},
  "layer":[
   {"data":{"name":"strips"},"mark":{"type":"rect","color":"#7f7f7f"},"encoding":{"x2":{"field":"x2"},"y2":{"field":"y2"}}},
   {"data":{"name":"striptext"},"mark":{"type":"text","angle":90,"fontSize":13,"align":"center","baseline":"middle","color":"#1a1a1a"},"encoding":{"text":{"field":"t"}}},
   {"data":{"name":"tri"},"mark":{"type":"point","shape":"M-1,-0.54L1,0L-1,0.54Z","size":729,"filled":true,"color":"#e8262c","opacity":1,"strokeWidth":0}},
   {"data":{"name":"dtext"},"transform":[{"filter":"datum.s=='i'"}],"mark":{"type":"text","fontSize":12.8,"fontStyle":"italic","align":"left","baseline":"middle","color":"#555555"},"encoding":{"text":{"field":"t"}}},
   {"data":{"name":"dtext"},"transform":[{"filter":"datum.s=='n'"}],"mark":{"type":"text","fontSize":12.8,"align":"left","baseline":"middle","color":"#555555"},"encoding":{"text":{"field":"t"}}},
   {"data":{"name":"dtext"},"transform":[{"filter":"datum.s=='b'"}],"mark":{"type":"text","fontSize":12.8,"fontWeight":"bold","align":"left","baseline":"middle","color":"#444444"},"encoding":{"text":{"field":"t"}}},
   {"data":{"name":"dtext"},"transform":[{"filter":"datum.s=='u'"}],"mark":{"type":"text","fontSize":11,"fontWeight":"bold","align":"left","baseline":"middle","color":"#4d4d4d"},"encoding":{"text":{"field":"t"}}}
  ]}
]}
]
}
